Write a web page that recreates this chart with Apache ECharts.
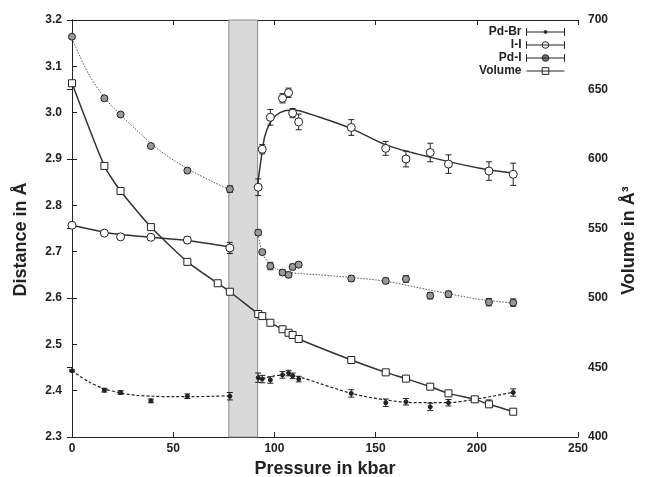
<!DOCTYPE html>
<html>
<head>
<meta charset="utf-8">
<script src="https://cdn.jsdelivr.net/npm/echarts@6/dist/echarts.min.js"></script>
<style>
html, body { margin: 0; padding: 0; background: #fff; }
#chart { width: 647px; height: 477px; }
</style>
</head>
<body>
<div id="chart"></div>
<script>
// pressures (kbar) of the distance measurements, below / above the transition
const pLow = [0, 16, 24, 39, 57, 78];
const pHigh = [92, 94, 98, 104, 107, 109, 112, 138, 155, 165, 177, 186, 206, 218];

// Pd-Br distances (A)
const pdBrLow = [2.443, 2.401, 2.396, 2.378, 2.388, 2.388];
const pdBrLowErr = [0.002, 0.004, 0.004, 0.004, 0.005, 0.008];
const pdBrHigh = [2.428, 2.425, 2.423, 2.434, 2.438, 2.432, 2.425, 2.394, 2.374, 2.376, 2.365, 2.374, 2.373, 2.396];
const pdBrHighErr = [0.010, 0.008, 0.007, 0.007, 0.006, 0.006, 0.006, 0.008, 0.008, 0.007, 0.008, 0.007, 0.007, 0.008];

// I-I distances (A)
const iiLow = [2.757, 2.740, 2.732, 2.731, 2.725, 2.708];
const iiLowErr = [0.002, 0.005, 0.005, 0.005, 0.007, 0.012];
const iiHigh = [2.839, 2.921, 2.990, 3.031, 3.043, 2.999, 2.980, 2.968, 2.923, 2.900, 2.914, 2.889, 2.874, 2.867];
const iiHighErr = [0.018, 0.010, 0.017, 0.010, 0.010, 0.010, 0.017, 0.017, 0.015, 0.017, 0.020, 0.020, 0.020, 0.024];

// Pd-I distances (A)
const pdILow = [3.164, 3.031, 2.996, 2.928, 2.875, 2.835];
const pdILowErr = [0.003, 0.004, 0.004, 0.005, 0.005, 0.007];
const pdIHigh = [2.741, 2.699, 2.669, 2.655, 2.650, 2.667, 2.672, 2.642, 2.637, 2.641, 2.605, 2.608, 2.591, 2.590];
const pdIHighErr = [0.006, 0.005, 0.008, 0.006, 0.005, 0.006, 0.005, 0.006, 0.006, 0.007, 0.007, 0.007, 0.008, 0.008];

// cell volume (A^3)
const volP = [0, 16, 24, 39, 57, 72, 78, 92, 94, 98, 104, 107, 109, 112, 138, 155, 165, 177, 186, 199, 206, 218];
const volV = [654.5, 595, 577, 551, 526, 510.6, 504.5, 488.5, 487, 482.2, 477.5, 475, 473.4, 470.5, 455.4, 446.5, 442, 436.2, 431.4, 427.1, 423.5, 418.2];

// fitted curves
const fitPdBrLowP = [0, 8, 16, 24, 32, 40, 50, 60, 70, 78];
const fitPdBrLowV = [2.443, 2.420, 2.404, 2.395, 2.390, 2.388, 2.387, 2.387, 2.388, 2.389];
const fitPdBrHighP = [91.7, 96, 100, 106, 112, 122, 139, 155, 170, 185, 200, 218.4];
const fitPdBrHighV = [2.424, 2.428, 2.432, 2.434, 2.430, 2.416, 2.393, 2.380, 2.374, 2.374, 2.382, 2.397];
const fitIILowP = [0, 16, 24, 39, 57, 78];
const fitIILowV = [2.757, 2.742, 2.737, 2.731, 2.724, 2.710];
const fitIIHighP = [91.7, 93.6, 95.2, 97.7, 101, 105.1, 109.2, 122.4, 138.9, 155.4, 176.8, 201.5, 218.4];
const fitIIHighV = [2.845, 2.905, 2.948, 2.977, 2.995, 3.004, 3.006, 2.990, 2.964, 2.930, 2.904, 2.880, 2.869];
const fitPdILowP = [0, 8, 16, 24, 32, 40, 50, 60, 70, 78];
const fitPdILowV = [3.160, 3.085, 3.033, 2.995, 2.962, 2.930, 2.898, 2.872, 2.850, 2.834];
const fitPdIHighP = [91.7, 94, 98, 102, 106, 112, 122, 139, 155, 177, 200, 218.4];
const fitPdIHighV = [2.745, 2.697, 2.672, 2.661, 2.656, 2.653, 2.650, 2.644, 2.636, 2.617, 2.598, 2.589];

// shaded transition range (kbar)
const bandRange = [77.5, 91.7];

const xTicks = [0, 250, 50];     // min, max, step
const distTicks = [2.3, 3.2, 0.1];
const volTicks = [400, 700, 50];

const ink = '#222';
const font = 'Liberation Sans';

const zip = (a, b) => a.map((v, i) => [v, b[i]]);

// vertical error bars with caps
function errorBars(px, vals, errs) {
  return {
    type: 'custom',
    silent: true,
    z: 3,
    data: px.map((p, i) => [p, vals[i], errs[i]]),
    renderItem: (params, api) => {
      const x = api.value(0), y = api.value(1), e = api.value(2);
      const t = api.coord([x, y + e]);
      const b = api.coord([x, y - e]);
      const w = 3;
      const st = { stroke: ink, lineWidth: 1 };
      return {
        type: 'group',
        children: [
          { type: 'line', shape: { x1: t[0], y1: t[1], x2: b[0], y2: b[1] }, style: st },
          { type: 'line', shape: { x1: t[0] - w, y1: t[1], x2: t[0] + w, y2: t[1] }, style: st },
          { type: 'line', shape: { x1: b[0] - w, y1: b[1], x2: b[0] + w, y2: b[1] }, style: st }
        ]
      };
    }
  };
}

function fitLine(px, vals, type, width, color) {
  return {
    type: 'line',
    silent: true,
    showSymbol: false,
    smooth: 0.3,
    z: 2,
    data: zip(px, vals),
    lineStyle: { color: color, width: width, type: type }
  };
}

function points(name, px, vals, symbol, size, fill) {
  return {
    name: name,
    type: 'scatter',
    symbol: symbol,
    symbolSize: size,
    z: 4,
    data: zip(px, vals),
    itemStyle: { color: fill, borderColor: ink, borderWidth: 1, opacity: 1 }
  };
}

const icons = {
  'Pd-Br': 'path://M0,5H40M0,1V9M40,1V9M18.5,5a1.5,1.5 0 1,0 3,0a1.5,1.5 0 1,0 -3,0',
  'I-I': 'path://M0,5H40M0,1V9M40,1V9M16.5,5a3.5,3.5 0 1,0 7,0a3.5,3.5 0 1,0 -7,0',
  'Pd-I': 'path://M0,5H40M0,1V9M40,1V9M16.5,5a3.5,3.5 0 1,0 7,0a3.5,3.5 0 1,0 -7,0',
  'Volume': 'path://M0,5H40M16.5,1.5H23.5V8.5H16.5Z'
};
const legendFill = { 'Pd-Br': ink, 'I-I': '#fff', 'Pd-I': '#777', 'Volume': '#fff' };
const legendTops = [26, 39, 52, 65];

const legends = Object.keys(icons).map((name, i) => ({
  right: 82,
  top: legendTops[i],
  padding: 0,
  orient: 'vertical',
  align: 'right',
  itemWidth: 38,
  itemHeight: 9,
  itemGap: 0,
  selectedMode: false,
  textStyle: { fontFamily: font, fontWeight: 'bold', fontSize: 12, color: ink },
  data: [{
    name: name,
    icon: icons[name],
    itemStyle: { color: legendFill[name], borderColor: ink, borderWidth: 1 }
  }]
}));

const labelStyle = { fontFamily: font, fontWeight: 'bold', fontSize: 12, color: ink };
const nameStyle = { fontFamily: font, fontWeight: 'bold', fontSize: 18, color: ink };
const lineStyle = { color: ink, width: 1 };

const chart = echarts.init(document.getElementById('chart'));
chart.setOption({
  animation: false,
  backgroundColor: '#fff',
  legend: legends,
  grid: { left: 72, right: 69, top: 20, bottom: 40, containLabel: false, outerBoundsMode: 'none' },
  xAxis: [{
    type: 'value', min: xTicks[0], max: xTicks[1], interval: xTicks[2],
    name: 'Pressure in kbar', nameLocation: 'middle', nameGap: 22, nameTextStyle: nameStyle,
    axisLine: { lineStyle: lineStyle },
    axisTick: { inside: true, length: 5, lineStyle: lineStyle },
    axisLabel: Object.assign({ margin: 6 }, labelStyle),
    splitLine: { show: false }
  }, {
    type: 'value', position: 'top', min: xTicks[0], max: xTicks[1], interval: xTicks[2],
    axisLine: { lineStyle: lineStyle },
    axisTick: { inside: true, length: 5, lineStyle: lineStyle },
    axisLabel: { show: false },
    splitLine: { show: false }
  }],
  yAxis: [{
    type: 'value', min: distTicks[0], max: distTicks[1], interval: distTicks[2],
    name: 'Distance in Å', nameLocation: 'middle', nameGap: 42, nameRotate: 90,
    nameTextStyle: Object.assign({ padding: [0, 22, 0, 0] }, nameStyle),
    axisLine: { show: true, lineStyle: lineStyle },
    axisTick: { show: true, inside: true, length: 5, lineStyle: lineStyle },
    axisLabel: Object.assign({ margin: 10, formatter: v => v.toFixed(1) }, labelStyle),
    splitLine: { show: false }
  }, {
    type: 'value', position: 'right', min: volTicks[0], max: volTicks[1], interval: volTicks[2],
    name: 'Volume in Å³', nameLocation: 'middle', nameGap: 42, nameRotate: 90,
    nameTextStyle: Object.assign({ padding: [0, 24, 0, 0] }, nameStyle),
    axisLine: { show: true, lineStyle: lineStyle },
    axisTick: { show: true, inside: true, length: 5, lineStyle: lineStyle },
    axisLabel: Object.assign({ margin: 10 }, labelStyle),
    splitLine: { show: false }
  }],
  series: [
    // transition band
    {
      type: 'line', data: [], silent: true, z: 1,
      markArea: {
        silent: true,
        itemStyle: { color: '#d9d9d9', borderColor: '#8a8a8a', borderWidth: 1 },
        data: [[{ xAxis: bandRange[0] }, { xAxis: bandRange[1] }]]
      }
    },
    fitLine(fitPdBrLowP, fitPdBrLowV, [3, 2], 1.2, ink),
    fitLine(fitPdBrHighP, fitPdBrHighV, [3, 2], 1.2, ink),
    fitLine(fitIILowP, fitIILowV, 'solid', 1.5, '#333'),
    fitLine(fitIIHighP, fitIIHighV, 'solid', 1.5, '#333'),
    fitLine(fitPdILowP, fitPdILowV, [1.5, 1.5], 1, '#555'),
    fitLine(fitPdIHighP, fitPdIHighV, [1.5, 1.5], 1, '#555'),
    errorBars(pLow, pdBrLow, pdBrLowErr),
    errorBars(pHigh, pdBrHigh, pdBrHighErr),
    errorBars(pLow, iiLow, iiLowErr),
    errorBars(pHigh, iiHigh, iiHighErr),
    errorBars(pLow, pdILow, pdILowErr),
    errorBars(pHigh, pdIHigh, pdIHighErr),
    points('Pd-Br', pLow, pdBrLow, 'circle', 4, ink),
    points('Pd-Br', pHigh, pdBrHigh, 'circle', 4, ink),
    points('I-I', pLow, iiLow, 'circle', 8, '#fff'),
    points('I-I', pHigh, iiHigh, 'circle', 8, '#fff'),
    points('Pd-I', pLow, pdILow, 'circle', 7, '#999'),
    points('Pd-I', pHigh, pdIHigh, 'circle', 7, '#999'),
    {
      name: 'Volume',
      type: 'line',
      yAxisIndex: 1,
      smooth: 0.2,
      symbol: 'rect',
      symbolSize: 7,
      showSymbol: true,
      z: 4,
      data: zip(volP, volV),
      lineStyle: { color: '#333', width: 1.5 },
      itemStyle: { color: '#fff', borderColor: ink, borderWidth: 1 }
    }
  ]
});
</script>
</body>
</html>
